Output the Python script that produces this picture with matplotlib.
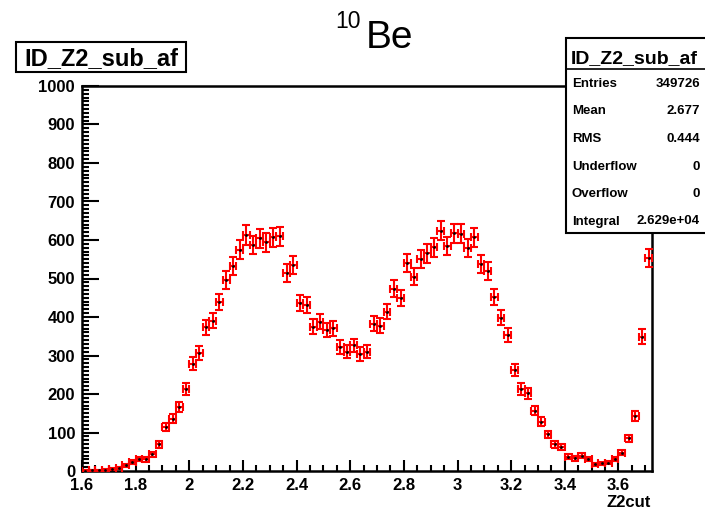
"""
ROOT-style histogram of Z2cut for 10Be, redrawn with matplotlib.
"""
import numpy as np
import matplotlib
matplotlib.use("Agg")
import matplotlib.pyplot as plt
from matplotlib.patches import Rectangle
from matplotlib.ticker import MultipleLocator

# binning: 85 bins of 0.025 starting at 1.6
X_LOW = 1.6
BIN_WIDTH = 0.025
COUNTS = [
    1, 2, 2, 3, 5, 8, 15, 23, 32, 30,
    43, 69, 115, 136, 166, 213, 279, 306, 373, 390,
    440, 496, 532, 575, 613, 587, 605, 594, 607, 610,
    514, 536, 436, 430, 375, 388, 366, 371, 323, 310,
    326, 304, 310, 382, 377, 414, 474, 449, 540, 505,
    551, 565, 581, 624, 584, 617, 616, 579, 607, 538,
    519, 452, 398, 353, 262, 213, 202, 157, 128, 95,
    69, 63, 37, 33, 40, 31, 17, 20, 22, 31,
    48, 85, 143, 349, 553,
]
X_TICKS = [1.6, 1.8, 2.0, 2.2, 2.4, 2.6, 2.8, 3.0, 3.2, 3.4, 3.6]
X_TICK_LABELS = ["1.6", "1.8", "2", "2.2", "2.4", "2.6", "2.8", "3", "3.2", "3.4", "3.6"]
Y_TICKS = [0, 100, 200, 300, 400, 500, 600, 700, 800, 900, 1000]

STAT_NAMES = ["Entries", "Mean", "RMS", "Underflow", "Overflow", "Integral"]
STAT_VALUES = ["349726", "2.677", "0.444", "0", "0", "2.629e+04"]

W, H = 705, 511
FONT = "Liberation Sans"


def fx(px):
    return px / W


def fy(py):
    return 1 - py / H


counts = np.array(COUNTS, dtype=float)
centers = X_LOW + BIN_WIDTH * (np.arange(len(counts)) + 0.5)
errors = np.sqrt(counts)  # Poisson errors, ROOT default
x_high = X_LOW + BIN_WIDTH * len(counts)

plt.rcParams["font.family"] = [FONT, "DejaVu Sans"]

fig = plt.figure(figsize=(W / 100, H / 100), dpi=100)
ax = fig.add_axes([fx(82), fy(471), fx(652) - fx(82), fy(86) - fy(471)])

ax.errorbar(
    centers, counts, xerr=BIN_WIDTH / 2, yerr=errors,
    fmt="none", ecolor="#ff0000", elinewidth=1.5, capsize=3.0, capthick=1.5,
    zorder=3,
)
ax.plot(centers, counts, "s", ms=0.9, color="black", zorder=4)

ax.set_xlim(X_LOW, x_high)
ax.set_ylim(0, 1000)
ax.set_xticks(X_TICKS)
ax.set_xticklabels(X_TICK_LABELS)
ax.set_yticks(Y_TICKS)
ax.xaxis.set_minor_locator(MultipleLocator(0.05))
ax.yaxis.set_minor_locator(MultipleLocator(10))
ax.tick_params(axis="both", which="both", direction="in", width=1.5,
               labelsize=12, top=False, right=False)
ax.tick_params(axis="x", which="major", length=8, pad=5)
ax.tick_params(axis="x", which="minor", length=4.3)
ax.tick_params(axis="y", which="major", length=12, pad=5)
ax.tick_params(axis="y", which="minor", length=5)
for lab in ax.get_xticklabels() + ax.get_yticklabels():
    lab.set_fontweight("bold")
for sp in ax.spines.values():
    sp.set_linewidth(1.8)

# axis title at the right end of x axis
fig.text(fx(651), fy(507), "Z2cut", ha="right", va="baseline",
         fontsize=12, fontweight="bold")

# main title  10Be
fig.text(fx(366), fy(48), "Be", ha="left", va="baseline", fontsize=28)
fig.text(fx(335), fy(28), "10", ha="left", va="baseline", fontsize=16.5)

# histogram name box, top left
fig.patches.append(Rectangle((fx(16), fy(72)), fx(186) - fx(16), fy(42) - fy(72),
                             transform=fig.transFigure, fill=True, facecolor="white",
                             edgecolor="black", linewidth=1.5))
fig.text(fx(101), fy(65), "ID_Z2_sub_af", ha="center", va="baseline",
         fontsize=17, fontweight="bold")

# stats box, top right
fig.patches.append(Rectangle((fx(566), fy(233)), fx(720) - fx(566), fy(38) - fy(233),
                             transform=fig.transFigure, fill=True, facecolor="white",
                             edgecolor="black", linewidth=1.5, zorder=5))
fig.add_artist(plt.Line2D([fx(566), fx(705)], [fy(69), fy(69)],
                          transform=fig.transFigure, color="black", linewidth=1.2, zorder=6))
fig.text(fx(571), fy(63), "ID_Z2_sub_af", ha="left", va="baseline",
         fontsize=14, fontweight="bold", zorder=7)
for i, (name, val) in enumerate(zip(STAT_NAMES, STAT_VALUES)):
    yb = 87 + 27.5 * i
    fig.text(fx(572), fy(yb), name, ha="left", va="baseline",
             fontsize=9.5, fontweight="bold", zorder=7)
    fig.text(fx(700), fy(yb), val, ha="right", va="baseline",
             fontsize=9.5, fontweight="bold", zorder=7)

fig.savefig("out.png", dpi=100)
